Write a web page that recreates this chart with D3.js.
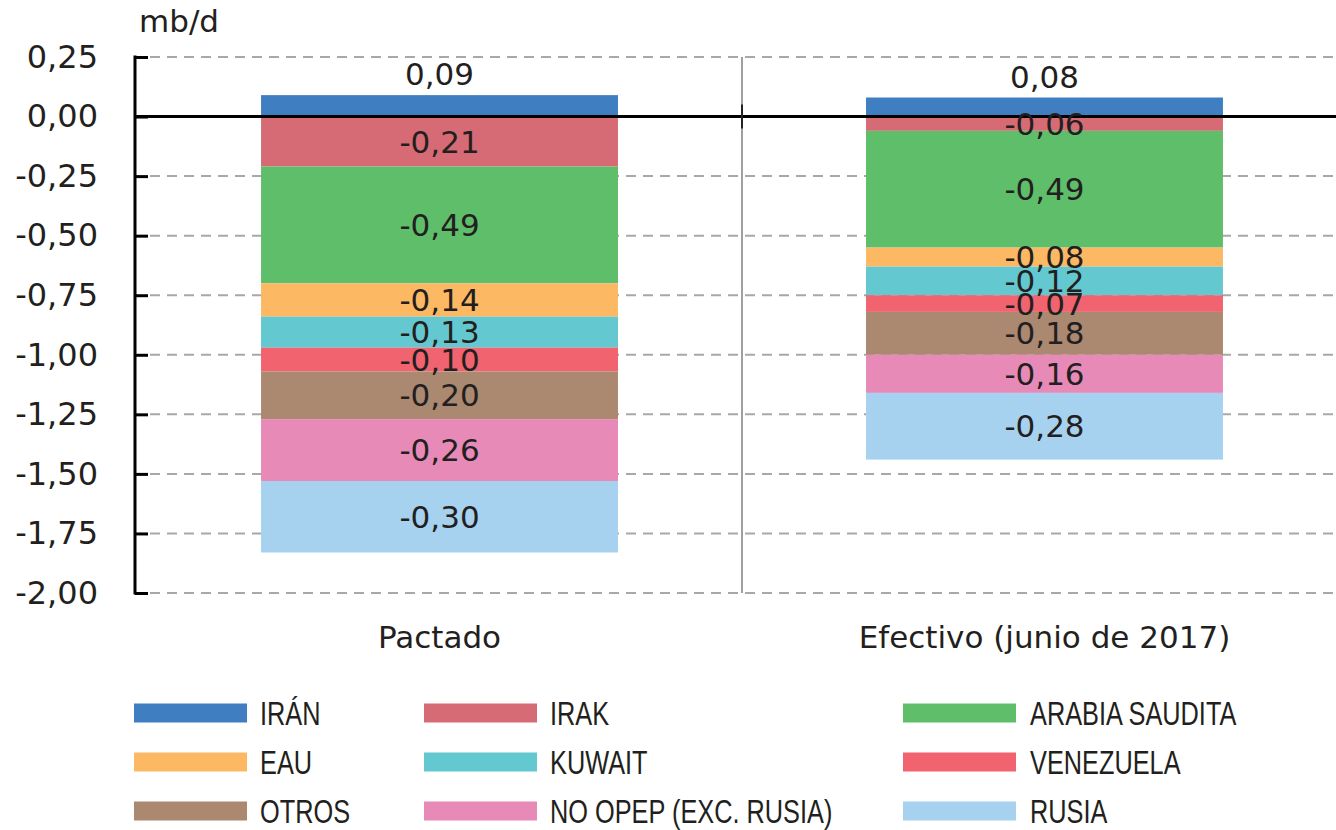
<!DOCTYPE html>
<html>
<head>
<meta charset="utf-8">
<script src="https://cdn.jsdelivr.net/npm/d3@7"></script>
<style>
  body { margin: 0; background: #fff; }
  svg { display: block; font-family: "DejaVu Sans", "Liberation Sans", sans-serif; }
  .legend text { font-family: "Liberation Sans", Arial, sans-serif; }
</style>
</head>
<body>
<svg width="1336" height="830"></svg>
<script>
// data (mb/d)
const categories = ["Pactado", "Efectivo (junio de 2017)"];
const seriesNames = ["IRÁN", "IRAK", "ARABIA SAUDITA", "EAU", "KUWAIT", "VENEZUELA", "OTROS", "NO OPEP (EXC. RUSIA)", "RUSIA"];
const pactado  = [0.09, -0.21, -0.49, -0.14, -0.13, -0.10, -0.20, -0.26, -0.30];
const efectivo = [0.08, -0.06, -0.49, -0.08, -0.12, -0.07, -0.18, -0.16, -0.28];
const colors = ["#3f7fc1", "#d76b75", "#5fbe6a", "#fdb863", "#63c8d0", "#f0636f", "#ab8870", "#e88ab7", "#a6d2f0"];
const yTicks = [0.25, 0, -0.25, -0.5, -0.75, -1, -1.25, -1.5, -1.75, -2];

const textColor = "#231f20";
const svg = d3.select("svg");
const plotLeft = 135, plotRight = 1336, plotTop = 57, plotBottom = 593;

const fmt = v => d3.format(".2f")(v).replace(".", ",").replace("−", "-");

// one row per category for d3.stack
const rows = categories.map((c, i) => {
  const r = { cat: c };
  seriesNames.forEach((s, j) => { r[s] = (i === 0 ? pactado : efectivo)[j]; });
  return r;
});

const stacked = d3.stack()
    .keys(seriesNames)
    .offset(d3.stackOffsetDiverging)(rows);

const x = d3.scaleBand()
    .domain(categories)
    .range([134, 1350])
    .paddingInner(0.41)
    .paddingOuter(0.21);

const y = d3.scaleLinear()
    .domain([-2, 0.25])
    .range([plotBottom, plotTop]);

// dashed grid
svg.append("g")
  .selectAll("line")
  .data(yTicks.filter(t => t !== 0))
  .join("line")
    .attr("x1", plotLeft + 15)
    .attr("x2", plotRight)
    .attr("y1", d => y(d))
    .attr("y2", d => y(d))
    .attr("stroke", "#a8a8a8")
    .attr("stroke-width", 2)
    .attr("stroke-dasharray", "10,7");

// separator between categories
const sepX = (x(categories[0]) + x.bandwidth() + x(categories[1])) / 2;
svg.append("line")
    .attr("x1", sepX).attr("x2", sepX)
    .attr("y1", plotTop).attr("y2", plotBottom)
    .attr("stroke", "#a0a0a0")
    .attr("stroke-width", 2);

// bars
svg.append("g")
  .selectAll("g")
  .data(stacked)
  .join("g")
    .attr("fill", (d, i) => colors[i])
  .selectAll("rect")
  .data(d => d)
  .join("rect")
    .attr("x", d => x(d.data.cat))
    .attr("width", x.bandwidth())
    .attr("y", d => y(d[1]))
    .attr("height", d => y(d[0]) - y(d[1]));

// zero line over the bars
svg.append("line")
    .attr("x1", plotLeft).attr("x2", plotRight)
    .attr("y1", y(0)).attr("y2", y(0))
    .attr("stroke", "#000")
    .attr("stroke-width", 3);

svg.append("line")
    .attr("x1", sepX).attr("x2", sepX)
    .attr("y1", y(0) - 12).attr("y2", y(0) + 12)
    .attr("stroke", "#222")
    .attr("stroke-width", 2);

// value labels
stacked.forEach(layer => {
  layer.forEach(d => {
    const v = d.data[layer.key];
    const cy = v > 0 ? y(d[1]) - 21 : (y(d[0]) + y(d[1])) / 2;
    svg.append("text")
        .attr("x", x(d.data.cat) + x.bandwidth() / 2)
        .attr("y", cy)
        .attr("dy", "0.36em")
        .attr("text-anchor", "middle")
        .attr("font-size", 31)
        .attr("fill", textColor)
        .text(fmt(v));
  });
});

// y axis
const yAxis = svg.append("g")
    .attr("transform", "translate(" + plotLeft + ",0)")
    .call(d3.axisRight(y).tickValues(yTicks).tickSize(13).tickFormat(fmt));
yAxis.select(".domain").remove();
yAxis.selectAll(".tick line").attr("stroke", "#000").attr("stroke-width", 3);
yAxis.selectAll(".tick text")
    .attr("x", -37)
    .attr("text-anchor", "end")
    .attr("font-size", 32)
    .attr("font-family", "DejaVu Sans, sans-serif")
    .attr("fill", textColor);
yAxis.append("line")
    .attr("y1", plotTop - 1.5).attr("y2", plotBottom + 1.5)
    .attr("stroke", "#000")
    .attr("stroke-width", 3);

svg.append("text")
    .attr("x", 139)
    .attr("y", 32)
    .attr("font-size", 31)
    .attr("fill", textColor)
    .text("mb/d");

// category labels
svg.append("g")
  .selectAll("text")
  .data(categories)
  .join("text")
    .attr("x", d => x(d) + x.bandwidth() / 2)
    .attr("y", 648)
    .attr("text-anchor", "middle")
    .attr("font-size", 31)
    .attr("fill", textColor)
    .text(d => d);

// legend: 3 columns x 3 rows, condensed labels
const colX = [134, 424, 903];
const rowY = [713, 762, 811];
const legend = svg.append("g").attr("class", "legend")
  .selectAll("g")
  .data(seriesNames)
  .join("g")
    .attr("transform", (d, i) => "translate(" + colX[i % 3] + "," + rowY[Math.floor(i / 3)] + ")");

legend.append("rect")
    .attr("x", 0)
    .attr("y", -9.5)
    .attr("width", 113)
    .attr("height", 19)
    .attr("fill", (d, i) => colors[i]);

legend.append("text")
    .attr("transform", (d, i) => "translate(" + (i % 3 === 2 ? 127 : 126) + ",0) scale(0.745,1)")
    .attr("dy", "0.36em")
    .attr("font-size", 34)
    .attr("fill", textColor)
    .text(d => d);
</script>
</body>
</html>
